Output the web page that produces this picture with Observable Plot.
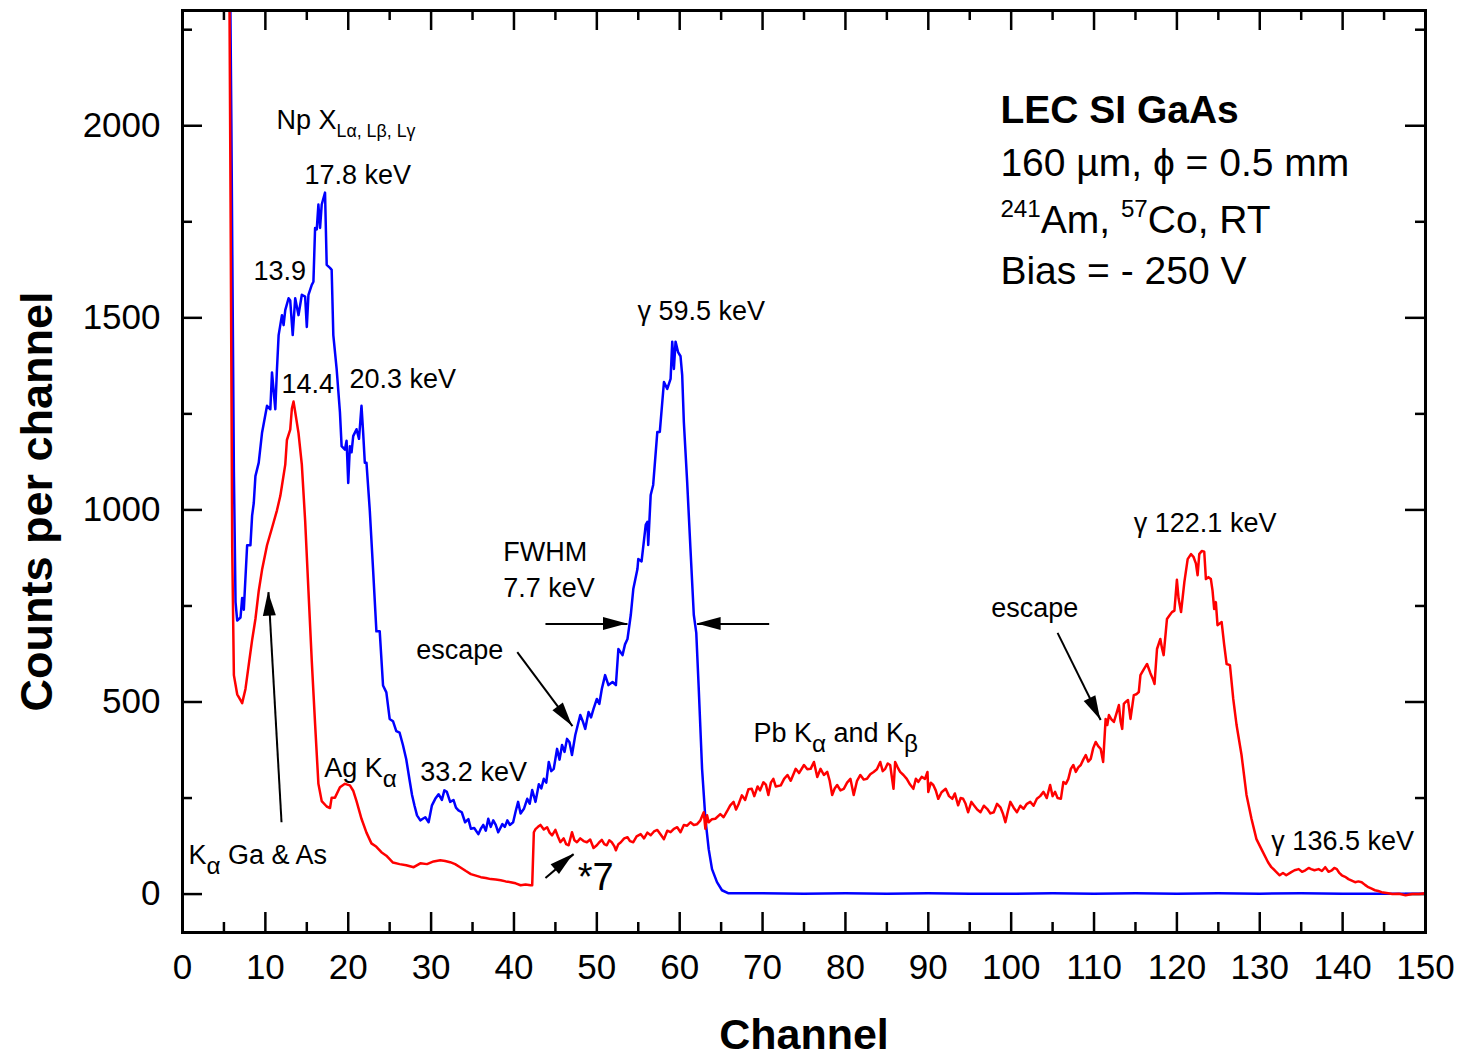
<!DOCTYPE html>
<html><head><meta charset="utf-8">
<script src="https://cdn.jsdelivr.net/npm/d3@7"></script>
<script src="https://cdn.jsdelivr.net/npm/@observablehq/plot@0.6"></script>
<style>body{margin:0;background:#fff;} svg{display:block}</style>
</head><body><div id="chart"></div>
<script>
// ---------- data ----------
const blueChannel = [5.5,5.9,6.2,6.4,6.6,7.0,7.2,7.4,7.8,8.2,8.4,8.6,8.8,9.2,9.6,10.2,10.6,10.8,11.2,11.4,11.6,12.0,12.2,12.4,12.8,13.0,13.3,13.6,14.0,14.4,14.8,15.0,15.2,15.6,15.8,16.0,16.2,16.4,16.6,16.8,17.2,17.4,17.8,18.0,18.2,18.6,19.0,19.2,19.6,19.8,20.0,20.2,20.4,20.6,21.0,21.3,21.6,21.8,22.0,22.2,22.6,23.0,23.4,23.8,24.2,24.6,25.0,25.4,25.8,26.2,26.6,27.0,27.4,27.7,28.0,28.3,28.7,29.0,29.3,29.7,30.1,30.5,30.9,31.3,31.6,31.9,32.3,32.7,33.0,33.3,33.7,34.1,34.5,34.8,35.2,35.7,36.0,36.3,36.6,36.9,37.2,37.5,37.8,38.1,38.6,38.9,39.2,39.5,39.9,40.2,40.5,40.8,41.2,41.6,41.9,42.2,42.6,43.0,43.3,43.6,43.9,44.2,44.5,44.8,45.2,45.5,45.8,46.1,46.4,46.7,47.0,47.4,47.7,48.0,48.3,48.6,49.0,49.3,49.6,50.0,50.3,50.6,51.0,51.4,51.9,52.3,52.6,53.1,53.4,53.7,54.1,54.4,54.9,55.0,55.4,55.9,56.1,56.2,56.5,56.8,57.3,57.6,58.1,58.5,58.9,59.1,59.3,59.5,59.8,60.1,60.3,60.5,60.9,61.3,61.7,62.0,62.3,62.7,63.1,63.5,63.9,64.5,65.1,65.9,70,75,80,85,90,95,100,105,110,115,120,125,130,135,140,145,150];
const blueCounts  = [3000,2000,1100,760,712,720,771,740,908,908,985,1018,1088,1123,1201,1271,1262,1358,1262,1367,1455,1507,1481,1520,1551,1545,1455,1551,1507,1560,1555,1476,1560,1586,1594,1734,1730,1795,1734,1795,1826,1638,1630,1625,1455,1367,1254,1166,1157,1180,1070,1166,1150,1192,1210,1185,1271,1201,1123,1123,999,844,684,684,543,525,456,450,424,420,388,351,297,258,230,205,192,196,200,187,231,248,260,245,270,266,240,245,225,218,213,187,195,170,172,156,170,180,165,196,175,192,180,161,182,175,192,180,187,215,240,210,222,248,235,271,240,286,275,300,290,344,320,326,378,350,388,370,404,395,362,414,440,466,450,430,474,460,482,508,495,534,570,544,552,544,638,622,650,664,727,794,846,872,866,961,969,909,1039,1065,1203,1203,1333,1315,1341,1438,1367,1438,1411,1400,1351,1229,1073,898,727,680,534,326,196,117,65,31,10,2,2,1,2,1,2,1,1,2,1,2,1,2,1,2,1,1,1];

const redChannel = [5.5,5.8,6.0,6.2,6.6,7.0,7.2,7.6,8.0,8.4,8.8,9.2,9.6,10.2,10.8,11.4,11.8,12.0,12.4,12.6,13.0,13.2,13.4,13.6,14.0,14.4,14.8,15.2,15.6,16.0,16.4,16.8,17.4,17.8,18.0,18.4,19.0,19.6,20.2,20.6,21.0,21.6,22.2,22.8,23.4,24.0,24.6,25.4,26.2,27.0,27.9,28.7,29.5,30.3,31.1,31.7,32.3,32.9,33.5,34.2,34.8,35.4,36.0,36.6,37.2,37.8,38.4,39.0,39.6,40.2,40.8,41.4,42.0,42.2,42.4,42.6,42.9,43.2,43.6,44.0,44.3,44.6,45.0,45.3,45.6,46.0,46.3,46.6,47.0,47.3,47.6,48.0,48.4,48.8,49.2,49.6,50.0,50.3,50.6,50.9,51.2,51.5,51.8,52.1,52.3,52.6,52.9,53.3,53.7,54.0,54.4,54.8,55.3,55.7,56.1,56.5,56.9,57.3,57.7,58.1,58.5,58.9,59.3,59.7,60.1,60.5,60.9,61.3,61.7,62.1,62.5,62.9,63.1,63.3,63.5,63.9,64.3,64.9,65.3,65.7,66.1,66.5,66.8,67.1,67.5,67.9,68.3,68.7,69.0,69.4,69.7,70.1,70.4,70.7,71.0,71.3,71.6,72.2,72.6,73.0,73.4,74.0,74.4,75.0,75.4,75.8,76.2,76.6,77.0,77.4,77.8,78.1,78.4,78.7,79.0,79.4,79.8,80.2,80.6,81.0,81.4,81.8,82.2,82.6,83.0,83.4,83.8,84.2,84.5,84.8,85.1,85.4,85.8,86.0,86.3,86.6,87.0,87.4,87.8,88.2,88.5,88.8,89.2,89.6,89.9,90.0,90.3,90.6,90.9,91.2,91.6,92.1,92.5,92.9,93.2,93.6,93.9,94.2,94.5,94.8,95.2,95.5,95.9,96.3,96.7,97.1,97.5,97.9,98.3,98.7,99.0,99.3,99.6,99.9,100.3,100.7,101.1,101.5,101.9,102.3,102.7,103.1,103.5,103.9,104.3,104.7,105.0,105.3,105.6,106.0,106.3,106.6,106.9,107.2,107.5,107.8,108.1,108.4,108.7,109.0,109.3,109.6,109.9,110.2,110.5,110.8,111.1,111.4,111.6,111.8,112.1,112.4,112.7,113.0,113.2,113.4,113.6,113.8,114.1,114.4,114.8,115.1,115.4,115.6,116.0,116.4,116.8,117.1,117.3,117.6,118.0,118.2,118.4,118.8,119.1,119.4,119.7,120.0,120.2,120.5,120.9,121.3,121.7,122.0,122.3,122.5,122.7,123.0,123.3,123.5,123.8,124.1,124.3,124.5,124.7,124.9,125.4,125.7,126.0,126.4,126.8,127.2,127.8,128.4,129.0,129.6,130.2,131.0,131.4,131.8,132.4,132.8,133.2,133.8,134.2,134.7,135.1,135.5,135.9,136.2,136.6,137.1,137.5,137.9,138.3,138.7,139.0,139.3,139.6,139.9,140.3,140.7,141.1,141.5,141.9,142.3,142.7,143.1,143.5,143.9,144.3,144.7,145.3,146.0,146.8,147.6,148.4,149.2,150.0];
const redCounts  = [3000,1800,900,570,520,505,497,534,598,661,716,789,844,908,953,999,1036,1063,1118,1182,1209,1264,1282,1255,1200,1118,972,789,607,443,287,242,228,224,251,251,278,287,283,269,242,196,160,132,123,109,100,82,78,75,70,80,78,85,88,86,83,78,70,60,52,48,44,42,39,38,36,33,31,28,23,25,23,23,161,169,175,180,168,174,160,153,167,150,135,145,130,127,161,140,135,145,138,135,142,120,127,135,141,130,127,140,135,125,114,130,135,145,148,138,135,150,156,145,160,153,163,167,155,143,165,161,170,174,161,180,178,187,180,182,192,213,170,205,187,195,196,208,200,215,231,240,220,234,257,245,273,274,255,280,270,291,285,258,290,300,280,283,300,310,295,326,315,336,325,326,344,305,326,310,318,295,258,275,284,270,274,290,300,258,295,310,298,300,312,318,325,344,320,326,340,336,274,344,330,318,310,300,285,274,300,292,305,300,318,266,290,284,270,248,265,274,255,248,262,231,250,248,235,213,240,231,220,213,230,222,210,213,235,226,210,187,215,240,225,213,230,222,235,240,230,248,255,266,250,284,255,266,250,248,292,287,300,326,336,318,330,336,350,362,345,352,380,396,385,378,344,456,440,466,455,448,470,492,450,430,495,500,505,456,518,520,526,570,585,599,575,560,547,638,664,640,622,716,725,734,738,818,770,734,812,872,885,878,860,830,885,893,891,820,825,820,790,742,760,700,708,650,599,596,508,440,362,258,196,143,117,83,70,62,49,55,49,57,62,65,58,62,68,65,62,65,60,70,58,62,68,65,55,49,45,39,35,31,33,31,24,18,14,10,8,5,3,0,1,-3,0,0,2];

const xTickValues = [0,10,20,30,40,50,60,70,80,90,100,110,120,130,140,150];
const xMinorTicks = [5,15,25,35,45,55,65,75,85,95,105,115,125,135,145];
const yTickValues = [0,500,1000,1500,2000];
const yMinorTicks = [250,750,1250,1750,2250];

// annotation labels (text, channel, counts at baseline)
const annoText = ["Np X_{Lα, Lβ, Lγ}","17.8 keV","13.9","14.4","20.3 keV","γ 59.5 keV","FWHM","7.7 keV","escape","33.2 keV","Ag K_{α}","K_{α} Ga & As","Pb K_{α} and K_{β}","escape","γ 122.1 keV","γ 136.5 keV"];
const annoX    = [11.34,14.72,8.57,11.95,20.15,54.9,38.7,38.7,28.2,28.7,17.1,0.72,68.9,97.6,114.8,131.4];
const annoY    = [1992,1849,1599,1305,1318,1495,867,773,612,294,305,78,396,721,943,115];
const starText = ["*7"];
const starX = [47.7];
const starY = [10];

const infoTitle = ["LEC SI GaAs"];
const infoLines = ["160 µm, ϕ = 0.5 mm","^{241}Am, ^{57}Co, RT","Bias = - 250 V"];
const infoX = 98.7;
const infoTitleY = [2008];
const infoLinesY = [1870,1721,1589];

// arrows: tail -> tip, in channel / counts
const arrowX1 = [11.95,40.4,43.8,70.8,43.8,105.6];
const arrowY1 = [187,630,703,703,42,680];
const arrowX2 = [10.38,47.06,53.7,62.1,47.2,110.8];
const arrowY2 = [786,437,703,703,104,453];

// ---------- build ----------
const blue = blueChannel.map((c,i)=>({c, v: blueCounts[i]}));
const red = redChannel.map((c,i)=>({c, v: redCounts[i]}));
const annos = annoText.map((t,i)=>({t, x: annoX[i], y: annoY[i]}));
const stars = starText.map((t,i)=>({t, x: starX[i], y: starY[i]}));
const info = infoLines.map((t,i)=>({t, x: infoX, y: infoLinesY[i]}));
const title = infoTitle.map((t,i)=>({t, x: infoX, y: infoTitleY[i]}));
const arrows = arrowX1.map((x1,i)=>({x1, y1: arrowY1[i], x2: arrowX2[i], y2: arrowY2[i]}));

const xDomain = [0,150], yDomain = [-100,2300];
const W = 1460, H = 1058, mL = 182, mR = 35, mT = 10, mB = 126;
const pxX = (W - mL - mR) / (xDomain[1]-xDomain[0]);
const pxY = (H - mT - mB) / (yDomain[1]-yDomain[0]);
const majL = 20, minL = 10;

const font = "'Liberation Sans', Arial, Helvetica, sans-serif";

const plot = Plot.plot({
  width: W, height: H,
  marginLeft: mL, marginRight: mR, marginTop: mT, marginBottom: mB,
  style: {fontFamily: font, background: "#fff", color: "#000"},
  x: {domain: xDomain},
  y: {domain: yDomain},
  marks: [
    // inward ticks on all four sides
    Plot.ruleX(xTickValues, {x: d=>d, y1: yDomain[0], y2: yDomain[0] + majL/pxY, strokeWidth: 2.5}),
    Plot.ruleX(xMinorTicks, {x: d=>d, y1: yDomain[0], y2: yDomain[0] + minL/pxY, strokeWidth: 2.5}),
    Plot.ruleX(xTickValues, {x: d=>d, y1: yDomain[1], y2: yDomain[1] - majL/pxY, strokeWidth: 2.5}),
    Plot.ruleX(xMinorTicks, {x: d=>d, y1: yDomain[1], y2: yDomain[1] - minL/pxY, strokeWidth: 2.5}),
    Plot.ruleY(yTickValues, {y: d=>d, x1: xDomain[0], x2: xDomain[0] + majL/pxX, strokeWidth: 2.5}),
    Plot.ruleY(yMinorTicks, {y: d=>d, x1: xDomain[0], x2: xDomain[0] + minL/pxX, strokeWidth: 2.5}),
    Plot.ruleY(yTickValues, {y: d=>d, x1: xDomain[1], x2: xDomain[1] - majL/pxX, strokeWidth: 2.5}),
    Plot.ruleY(yMinorTicks, {y: d=>d, x1: xDomain[1], x2: xDomain[1] - minL/pxX, strokeWidth: 2.5}),
    Plot.axisX({ticks: xTickValues, tickSize: 0, tickPadding: 22, fontSize: 35, tickFormat: d3.format("d"), label: null}),
    Plot.axisY({ticks: yTickValues, tickSize: 0, tickPadding: 22, fontSize: 35, tickFormat: d3.format("d"), label: null}),
    Plot.line(blue, {x: "c", y: "v", stroke: "#0000ff", strokeWidth: 2.5, clip: true}),
    Plot.line(red, {x: "c", y: "v", stroke: "#ff0000", strokeWidth: 2.5, clip: true}),
    Plot.link(arrows, {x1: "x1", y1: "y1", x2: "x2", y2: "y2", stroke: "#000", strokeWidth: 2}),
    Plot.text(annos, {x: "x", y: "y", text: "t", textAnchor: "start", lineAnchor: "bottom", fontSize: 27}),
    Plot.text(stars, {x: "x", y: "y", text: "t", textAnchor: "start", lineAnchor: "bottom", fontSize: 38}),
    Plot.text(title, {x: "x", y: "y", text: "t", textAnchor: "start", lineAnchor: "bottom", fontSize: 39, fontWeight: "bold"}),
    Plot.text(info, {x: "x", y: "y", text: "t", textAnchor: "start", lineAnchor: "bottom", fontSize: 39}),
    Plot.text(["Channel"], {frameAnchor: "bottom", textAnchor: "middle", dy: 116, lineAnchor: "bottom", fontSize: 43, fontWeight: "bold"}),
    Plot.text(["Counts per channel"], {frameAnchor: "left", textAnchor: "middle", rotate: -90, dx: -131, dy: 30, lineAnchor: "bottom", fontSize: 45, fontWeight: "bold"}),
    Plot.frame({stroke: "#000", strokeWidth: 3})
  ]
});
document.getElementById("chart").appendChild(plot);

// rich text: _{sub} and ^{sup}
plot.querySelectorAll("text").forEach(t => {
  const s = t.textContent;
  if (!/[_^]\{/.test(s)) return;
  const fs = parseFloat(getComputedStyle(t).fontSize);
  const parts = [];
  const re = /([_^])\{([^}]*)\}/g;
  let last = 0, m;
  while ((m = re.exec(s))) {
    if (m.index > last) parts.push({s: s.slice(last, m.index), k: ""});
    parts.push({s: m[2], k: m[1]});
    last = re.lastIndex;
  }
  if (last < s.length) parts.push({s: s.slice(last), k: ""});
  t.textContent = "";
  let shift = 0;
  for (const p of parts) {
    const ts = document.createElementNS("http://www.w3.org/2000/svg", "tspan");
    const long = p.s.length > 3;
    const target = p.k === "_" ? fs*(long ? 0.3 : 0.36) : p.k === "^" ? -fs*0.42 : 0;
    if (target !== shift) ts.setAttribute("dy", target - shift);
    shift = target;
    if (p.k) ts.setAttribute("font-size", fs * (p.k === "^" ? 0.62 : long ? 0.66 : 0.9));
    ts.textContent = p.s;
    t.appendChild(ts);
  }
});

// filled arrowheads using the plot's scales
const xs = plot.scale("x"), ys = plot.scale("y");
const sx = d3.scaleLinear(xs.domain, xs.range), sy = d3.scaleLinear(ys.domain, ys.range);
const g = d3.select(plot).append("g");
arrows.forEach(a => {
  const x1 = sx(a.x1), y1 = sy(a.y1), x2 = sx(a.x2), y2 = sy(a.y2);
  const ang = Math.atan2(y2 - y1, x2 - x1), c = Math.cos(ang), s = Math.sin(ang);
  const L = 24, hw = 6.5;
  const bx = x2 - L*c, by = y2 - L*s;
  g.append("path")
    .attr("d", `M${x2},${y2}L${bx - hw*s},${by + hw*c}L${bx + hw*s},${by - hw*c}Z`)
    .attr("fill", "#000");
});
</script>
</body></html>
